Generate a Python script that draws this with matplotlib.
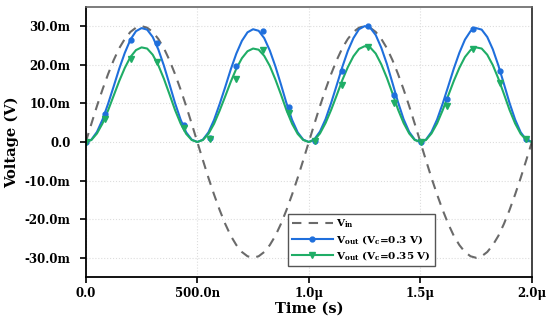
import numpy as np
import matplotlib
matplotlib.use('Agg')
import matplotlib.pyplot as plt

plt.rcParams['font.family'] = 'DejaVu Serif'
plt.rcParams['font.weight'] = 'bold'
plt.rcParams['mathtext.fontset'] = 'custom'
plt.rcParams['mathtext.rm'] = 'DejaVu Serif:bold'
plt.rcParams['mathtext.it'] = 'DejaVu Serif:bold'
plt.rcParams['mathtext.bf'] = 'DejaVu Serif:bold'

# time grid in ns (25 ns step), voltages in mV
t_ns = np.arange(0, 2001, 25)

v_in = [0, 4.7, 9.3, 13.6, 17.6, 21.2, 24.3, 26.7, 28.5, 29.6, 30.0, 29.6, 28.5, 26.7, 24.3, 21.2, 17.6, 13.6, 9.3, 4.7,
        0, -4.7, -9.3, -13.6, -17.6, -21.2, -24.3, -26.7, -28.5, -29.6, -30.0, -29.6, -28.5, -26.7, -24.3, -21.2, -17.6, -13.6, -9.3, -4.7,
        0, 4.7, 9.3, 13.6, 17.6, 21.2, 24.3, 26.7, 28.5, 29.6, 30.0, 29.6, 28.5, 26.7, 24.3, 21.2, 17.6, 13.6, 9.3, 4.7,
        0, -4.7, -9.3, -13.6, -17.6, -21.2, -24.3, -26.7, -28.5, -29.6, -30.0, -29.6, -28.5, -26.7, -24.3, -21.2, -17.6, -13.6, -9.3, -4.7,
        0]

v_out_03 = [0.0, 0.6, 2.6, 5.8, 9.9, 14.4, 19.0, 23.1, 26.5, 28.7, 29.5, 29.1, 27.2, 24.0, 19.8, 15.0, 10.1, 5.8, 2.5, 0.6, 0.0,
            0.6, 2.5, 5.7, 9.8, 14.2, 18.8, 22.9, 26.2, 28.4, 29.2, 28.8, 26.9, 23.7, 19.6, 14.9, 10.0, 5.7, 2.5, 0.6, 0.0,
            0.7, 2.7, 5.9, 10.1, 14.7, 19.4, 23.6, 26.9, 29.2, 30.0, 29.6, 27.7, 24.4, 20.2, 15.3, 10.3, 5.9, 2.6, 0.6, 0.0,
            0.6, 2.6, 5.8, 9.9, 14.4, 19.0, 23.1, 26.5, 28.7, 29.5, 29.1, 27.2, 24.0, 19.8, 15.0, 10.1, 5.8, 2.5, 0.6, 0.0]

v_out_035 = [0.0, 0.5, 2.2, 4.8, 8.2, 12.0, 15.8, 19.2, 22.0, 23.8, 24.5, 24.2, 22.6, 19.9, 16.4, 12.4, 8.3, 4.8, 2.1, 0.5, 0.0,
             0.5, 2.1, 4.7, 8.1, 11.8, 15.6, 19.0, 21.7, 23.5, 24.2, 23.9, 22.3, 19.7, 16.2, 12.3, 8.2, 4.7, 2.1, 0.5, 0.0,
             0.5, 2.2, 4.9, 8.3, 12.1, 16.0, 19.4, 22.2, 24.1, 24.8, 24.5, 22.9, 20.1, 16.6, 12.6, 8.4, 4.9, 2.2, 0.5, 0.0,
             0.5, 2.2, 4.8, 8.2, 12.0, 15.8, 19.2, 22.0, 23.8, 24.5, 24.2, 22.6, 19.9, 16.4, 12.4, 8.3, 4.8, 2.1, 0.5, 0.0]

# marker positions
mark_t = [0, 85, 203, 321, 439, 557, 675, 793, 911, 1029, 1147, 1265, 1383, 1501, 1619, 1737, 1855, 1973]
mark_03 = [0, 7.3, 26.3, 25.6, 4.5, 1.0, 19.8, 28.8, 9.0, 0.3, 18.3, 30.0, 12.2, 0.0, 11.2, 29.3, 18.5, 0.8]
mark_035 = [0, 5.9, 21.4, 20.8, 3.7, 0.8, 16.2, 23.9, 7.4, 0.3, 14.8, 24.6, 10.1, 0.0, 9.2, 24.1, 15.3, 0.7]

x_ticks = [0, 500, 1000, 1500, 2000]
x_labels = ['0.0', '500.0n', '1.0\u03bc', '1.5\u03bc', '2.0\u03bc']
y_ticks = [-30, -20, -10, 0, 10, 20, 30]
y_labels = ['-30.0m', '-20.0m', '-10.0m', '0.0', '10.0m', '20.0m', '30.0m']

blue = '#1f6fdc'
green = '#1fad66'

fig = plt.figure(figsize=(5.5, 3.26), dpi=100)
ax = fig.add_axes([0.156, 0.150, 0.811, 0.829])

ax.plot(t_ns, v_in, color='#6a6a6a', lw=1.5, ls=(0, (4.5, 3.5)), label='V$_{\\rm in}$')
ax.plot(t_ns, v_out_03, color=blue, lw=1.5)
ax.plot(t_ns, v_out_035, color=green, lw=1.5)
ax.plot(mark_t, mark_03, ls='none', marker='o', ms=3.5, color=blue)
ax.plot(mark_t, mark_035, ls='none', marker='v', ms=4, color=green)
# legend handles
ax.plot([], [], color=blue, lw=1.5, marker='o', ms=3.5, label='V$_{\\rm out}$ (V$_{\\rm c}$=0.3 V)')
ax.plot([], [], color=green, lw=1.5, marker='v', ms=4, label='V$_{\\rm out}$ (V$_{\\rm c}$=0.35 V)')

ax.set_xlim(0, 2000)
ax.set_ylim(-35, 35)
ax.set_xticks(x_ticks)
ax.set_xticklabels(x_labels, fontsize=8.5, fontweight='bold')
ax.set_yticks(y_ticks)
ax.set_yticklabels(y_labels, fontsize=8.5, fontweight='bold')
ax.tick_params(direction='out', length=4, width=1.2)
ax.tick_params(axis='y', pad=7)
ax.tick_params(axis='x', pad=3)
ax.grid(True, ls=':', color='#dddddd', lw=0.8)

ax.spines['left'].set_linewidth(1.3)
ax.spines['bottom'].set_linewidth(1.3)
ax.spines['top'].set_color('#666666')
ax.spines['top'].set_linewidth(1.2)
ax.spines['right'].set_color('#222222')
ax.spines['right'].set_linewidth(1.2)

ax.set_xlabel('Time (s)', fontsize=10.5, fontweight='bold', labelpad=1)
ax.set_ylabel('Voltage (V)', fontsize=10.5, fontweight='bold', labelpad=4)

handles, labels = ax.get_legend_handles_labels()
leg = ax.legend(handles, labels, loc='lower left', bbox_to_anchor=(0.453, 0.041),
                borderaxespad=0, fontsize=7.5, handlelength=4, fancybox=False, framealpha=1,
                edgecolor='#555555', borderpad=0.35, labelspacing=0.3, handletextpad=0.3)
leg.get_frame().set_linewidth(1.0)

fig.savefig('out.png', dpi=100)
